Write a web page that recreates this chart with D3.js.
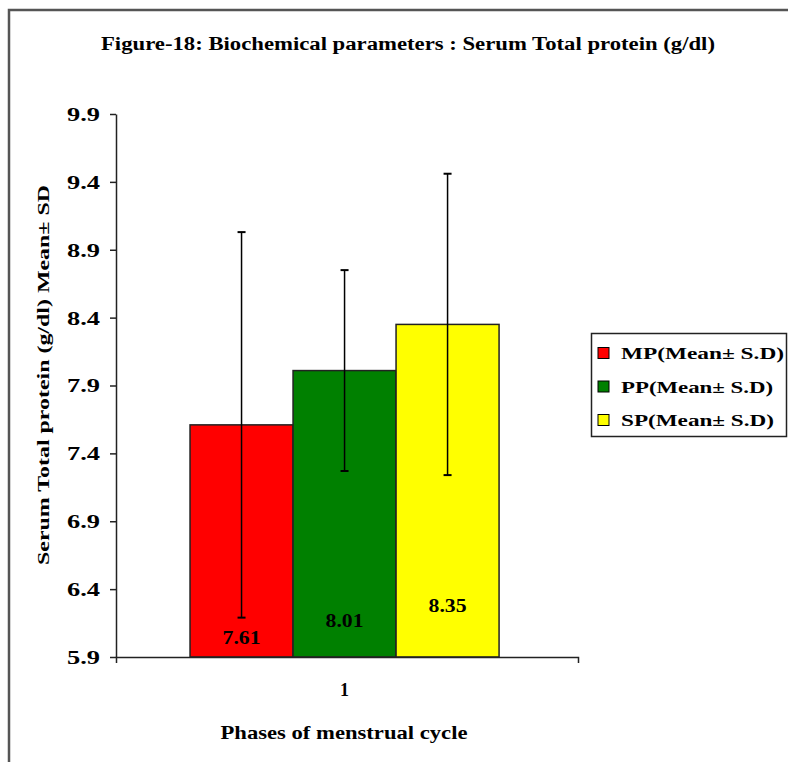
<!DOCTYPE html>
<html><head><meta charset="utf-8">
<script src="https://cdn.jsdelivr.net/npm/d3@7"></script>
<style>
body{margin:0;background:#fff}
svg text{font-family:"Liberation Serif","Times New Roman",serif;font-weight:bold;fill:#000}
</style>
</head><body>
<svg id="c" width="788" height="762"></svg>
<script>
// ---- data ----
const categories = ["1"];
const seriesNames = ["MP(Mean\u00B1 S.D)", "PP(Mean\u00B1 S.D)", "SP(Mean\u00B1 S.D)"];
const meanValues = [7.61, 8.01, 8.35];
const sdValues = [1.42, 0.74, 1.11];
const valueLabels = ["7.61", "8.01", "8.35"];
const seriesColors = ["#ff0000", "#008000", "#ffff00"];
const yTickValues = [5.9, 6.4, 6.9, 7.4, 7.9, 8.4, 8.9, 9.4, 9.9];
const titleText = "Figure-18: Biochemical parameters : Serum  Total protein (g/dl)";
const yTitle = "Serum Total protein (g/dl) Mean\u00B1 SD";
const xTitle = "Phases of menstrual cycle";

const svg = d3.select("#c");

// outer border (frame cut by the window on right/bottom)
svg.append("rect").attr("x", 9).attr("y", 10).attr("width", 900).attr("height", 900)
  .attr("fill", "none").attr("stroke", "#555").attr("stroke-width", 2.5);

const plot = {left: 116, right: 578, top: 114, bottom: 657};

const y = d3.scaleLinear().domain([5.9, 9.9]).range([plot.bottom, plot.top]);
const x0 = d3.scaleBand().domain(categories).range([plot.left, plot.right])
  .paddingInner(0).paddingOuter(0.2475).align(0.484);
const x1 = d3.scaleBand().domain(seriesNames).range([0, x0.bandwidth()]);

// title
svg.append("text").attr("x", 408).attr("y", 50).attr("text-anchor", "middle")
  .style("font-size", "18px").attr("textLength", 614).attr("lengthAdjust", "spacingAndGlyphs")
  .text(titleText);

// bars
const g = svg.append("g");
categories.forEach(cat => {
  const gx = x0(cat);
  seriesNames.forEach((s, i) => {
    g.append("rect")
      .attr("x", gx + x1(s)).attr("y", y(meanValues[i]))
      .attr("width", x1.bandwidth()).attr("height", y(5.9) - y(meanValues[i]))
      .attr("fill", seriesColors[i]).attr("stroke", "#222").attr("stroke-width", 1.5);
  });
  // error bars
  seriesNames.forEach((s, i) => {
    const cx = gx + x1(s) + x1.bandwidth() / 2;
    const hi = y(meanValues[i] + sdValues[i]), lo = y(meanValues[i] - sdValues[i]);
    g.append("line").attr("x1", cx).attr("x2", cx).attr("y1", hi).attr("y2", lo)
      .attr("stroke", "#000").attr("stroke-width", 1.5);
    [hi, lo].forEach(yy => g.append("line").attr("x1", cx - 4).attr("x2", cx + 4)
      .attr("y1", yy).attr("y2", yy).attr("stroke", "#000").attr("stroke-width", 2));
  });
  // value labels inside bars
  const labelY = d3.scaleLinear().domain([meanValues[0], meanValues[2]]).range([644, 612]);
  seriesNames.forEach((s, i) => {
    g.append("text").attr("x", gx + x1(s) + x1.bandwidth() / 2).attr("y", labelY(meanValues[i]))
      .attr("text-anchor", "middle").style("font-size", "18px")
      .attr("textLength", 38).attr("lengthAdjust", "spacingAndGlyphs")
      .text(valueLabels[i]);
  });
});

// y axis
const yAxis = svg.append("g").attr("transform", `translate(${plot.left},0)`)
  .call(d3.axisLeft(y).tickValues(yTickValues).tickFormat(d3.format(".1f"))
    .tickSizeInner(6).tickSizeOuter(0).tickPadding(10));
yAxis.selectAll("path,line").attr("stroke", "#222").attr("stroke-width", 1.5);
yAxis.selectAll("text").style("font-size", "18px").style("font-family", null)
  .attr("textLength", 33).attr("lengthAdjust", "spacingAndGlyphs").attr("dy", "0.36em");
yAxis.attr("font-family", null).attr("font-size", null);

// x axis
const xAxis = svg.append("g").attr("transform", `translate(0,${plot.bottom})`)
  .call(d3.axisBottom(x0).tickSizeInner(0).tickSizeOuter(6).tickPadding(26));
xAxis.selectAll("path,line").attr("stroke", "#222").attr("stroke-width", 1.5);
xAxis.selectAll("text").style("font-size", "18px");
xAxis.attr("font-family", null).attr("font-size", null);

// axis titles
svg.append("text").attr("x", 344).attr("y", 739).attr("text-anchor", "middle")
  .style("font-size", "19px").attr("textLength", 247).attr("lengthAdjust", "spacingAndGlyphs")
  .text(xTitle);
svg.append("text").attr("transform", "translate(49,375) rotate(-90)").attr("text-anchor", "middle")
  .style("font-size", "17px").attr("textLength", 380).attr("lengthAdjust", "spacingAndGlyphs")
  .text(yTitle);

// legend
const lg = svg.append("g");
lg.append("rect").attr("x", 591.5).attr("y", 333.5).attr("width", 195).attr("height", 103)
  .attr("fill", "#fff").attr("stroke", "#222").attr("stroke-width", 1.5);
const legendLen = [163, 152, 153];
seriesNames.forEach((s, i) => {
  const cy = 353 + i * 33.5;
  lg.append("rect").attr("x", 598).attr("y", cy - 5.5).attr("width", 11).attr("height", 11)
    .attr("fill", seriesColors[i]).attr("stroke", "#000").attr("stroke-width", 1);
  lg.append("text").attr("x", 621).attr("y", cy + 6).style("font-size", "17px")
    .attr("textLength", legendLen[i]).attr("lengthAdjust", "spacingAndGlyphs").text(s);
});
</script>
</body></html>
